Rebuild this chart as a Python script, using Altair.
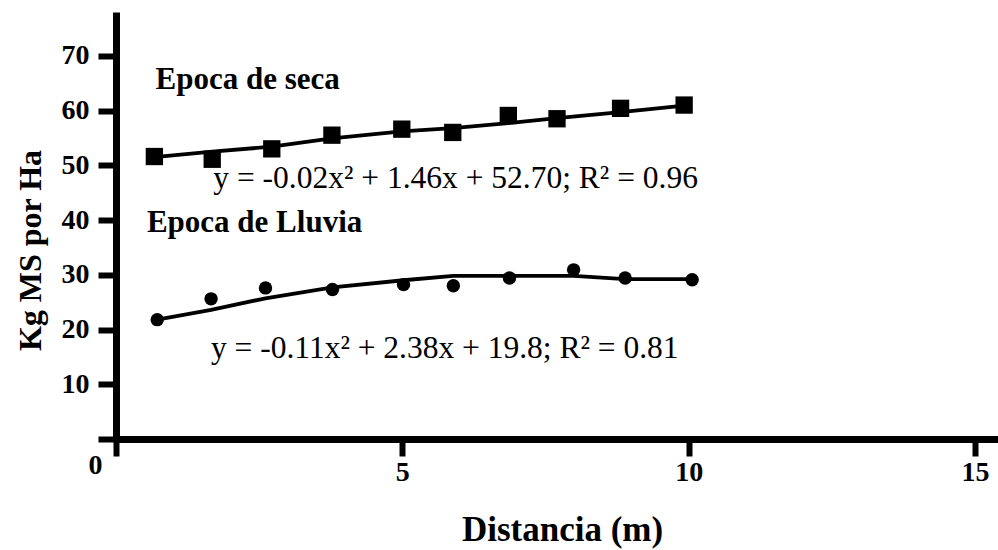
import altair as alt
import pandas as pd

# Epoca de seca (squares)
dist_seca = [0.67, 1.68, 2.72, 3.77, 4.99, 5.88, 6.85, 7.70, 8.81, 9.92]
kg_seca = [51.6, 51.1, 53.0, 55.5, 56.6, 56.0, 59.1, 58.5, 60.4, 61.0]
fit_seca = [51.5, 52.5, 53.4, 54.9, 56.2, 56.8, 57.7, 58.6, 59.7, 60.9]

# Epoca de Lluvia (circles)
dist_lluvia = [0.72, 1.66, 2.61, 3.78, 5.02, 5.89, 6.87, 7.99, 8.89, 10.06]
kg_lluvia = [21.8, 25.6, 27.6, 27.3, 28.2, 28.0, 29.4, 30.9, 29.4, 29.1]
fit_lluvia = [21.8, 23.6, 25.7, 27.7, 29.0, 29.8, 29.8, 29.8, 29.2, 29.2]

# annotations
label_text = ["Epoca de seca", "Epoca de Lluvia"]
label_x = [2.3, 2.42]
label_y = [63.9, 37.8]
eq_text = ["y = -0.02x\u00b2 + 1.46x + 52.70; R\u00b2 = 0.96",
           "y = -0.11x\u00b2 + 2.38x + 19.8; R\u00b2 = 0.81"]
eq_x = [5.93, 5.74]
eq_y = [45.8, 14.8]

x_ticks = [0, 5, 10, 15]
y_ticks = [0, 10, 20, 30, 40, 50, 60, 70]

SERIF = "Liberation Serif"

seca = pd.DataFrame({"d": dist_seca, "kg": kg_seca, "fit": fit_seca})
lluvia = pd.DataFrame({"d": dist_lluvia, "kg": kg_lluvia, "fit": fit_lluvia})
labels = pd.DataFrame({"d": label_x, "kg": label_y, "t": label_text})
eqs = pd.DataFrame({"d": eq_x, "kg": eq_y, "t": eq_text})

x_scale = alt.Scale(domain=[0, 15.4], nice=False, zero=True)
y_scale = alt.Scale(domain=[0, 78], nice=False, zero=True)

x_axis = alt.Axis(
    values=x_ticks, grid=False,
    domainColor="black", domainWidth=7,
    tickColor="black", tickWidth=6, tickSize=17,
    labelFont=SERIF, labelFontWeight="bold", labelFontSize=28, labelColor="black",
    labelPadding={"condition": {"test": "datum.value === 0", "value": -5}, "value": 2},
    labelOffset={"condition": {"test": "datum.value === 0", "value": -21}, "value": 0},
    labelFlush=False, labelOverlap=False,
    titleFont=SERIF, titleFontWeight="bold", titleFontSize=35, titleColor="black",
    titleX=446, titleY=101, titleAlign="center", titleBaseline="alphabetic",
)
y_axis = alt.Axis(
    values=y_ticks, grid=False,
    labelExpr="datum.value === 0 ? '' : datum.label",
    domainColor="black", domainWidth=7,
    tickColor="black", tickWidth=6, tickSize=18,
    labelFont=SERIF, labelFontWeight="bold", labelFontSize=28, labelColor="black",
    labelPadding=9, labelOverlap=False,
    titleFont=SERIF, titleFontWeight="bold", titleFontSize=32, titleColor="black",
    titleX=-86, titleY=238, titleAngle=-90, titleAlign="center", titleBaseline="middle",
)


def X():
    return alt.X("d:Q", scale=x_scale, axis=x_axis, title="Distancia (m)")


def Y(field):
    return alt.Y(field, scale=y_scale, axis=y_axis, title="Kg MS por Ha")


seca_line = alt.Chart(seca).mark_line(color="black", strokeWidth=3.8).encode(x=X(), y=Y("fit:Q"))
seca_pts = alt.Chart(seca).mark_point(shape="square", filled=True, color="black", size=300, opacity=1).encode(x=X(), y=Y("kg:Q"))
ll_line = alt.Chart(lluvia).mark_line(color="black", strokeWidth=3.8).encode(x=X(), y=Y("fit:Q"))
ll_pts = alt.Chart(lluvia).mark_point(shape="circle", filled=True, color="black", size=180, opacity=1).encode(x=X(), y=Y("kg:Q"))

lab = alt.Chart(labels).mark_text(font=SERIF, fontWeight="bold", fontSize=31, color="black",
                                  align="center", baseline="alphabetic").encode(x=X(), y=Y("kg:Q"), text="t:N")
eq = alt.Chart(eqs).mark_text(font=SERIF, fontSize=31.5, color="black",
                              align="center", baseline="alphabetic").encode(x=X(), y=Y("kg:Q"), text="t:N")

chart = alt.layer(seca_line, ll_line, seca_pts, ll_pts, lab, eq).properties(
    width=882, height=427,
    autosize=alt.AutoSizeParams(type="none"),
    padding={"left": 116, "top": 12, "right": 0, "bottom": 111},
    background="white",
).configure_view(stroke=None)

chart.save("out.html", embed_options={"renderer": "svg", "actions": False})
